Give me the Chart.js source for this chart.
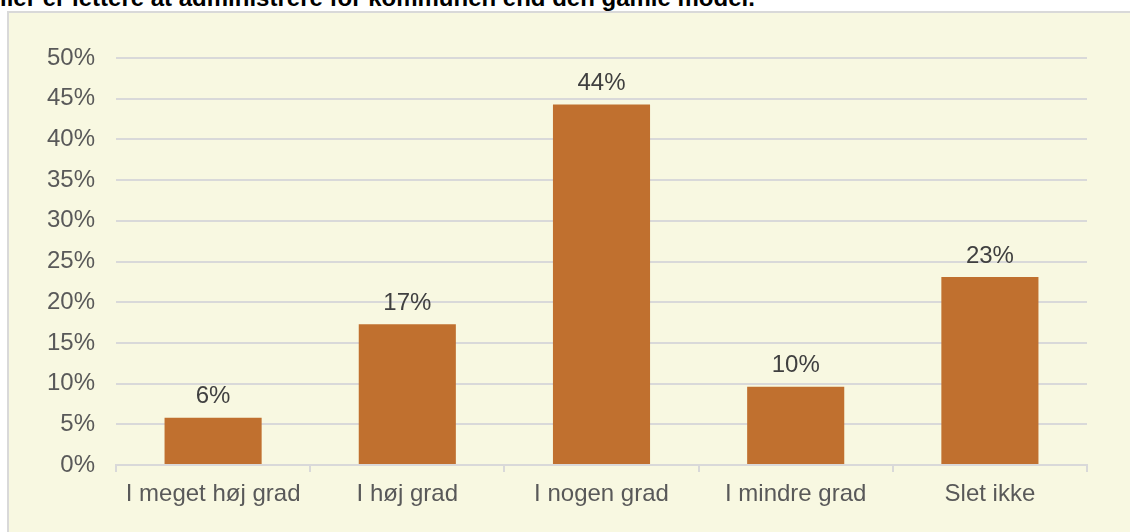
<!DOCTYPE html>
<html>
<head>
<meta charset="utf-8">
<script src="https://cdn.jsdelivr.net/npm/chart.js@4.4.1/dist/chart.umd.min.js"></script>
<style>
  html, body { margin: 0; padding: 0; width: 1130px; height: 532px; overflow: hidden; background: #ffffff; }
  #title { position: absolute; left: 0px; top: -14px; white-space: nowrap; font-family: "Liberation Sans", Arial, sans-serif; font-weight: bold; font-size: 24px; line-height: 24px; color: #000; }
  #panel { position: absolute; left: 7px; top: 11px; width: 1130px; height: 530px; background: #F8F8E1; border-left: 2px solid #D9D9D9; border-top: 2px solid #D9D9D9; }
  #wrap { position: absolute; left: 0; top: 0; width: 1130px; height: 532px; }
</style>
</head>
<body>
<div id="title">ller er lettere at administrere for kommunen end den gamle model.</div>
<div id="panel"></div>
<div id="wrap"><canvas id="c" width="1130" height="532"></canvas></div>
<script>
const categories = ["I meget høj grad", "I høj grad", "I nogen grad", "I mindre grad", "Slet ikke"];
const values = [5.8, 17.3, 44.3, 9.6, 23.1];
const valueLabels = ["6%", "17%", "44%", "10%", "23%"];
const yTicks = [0, 5, 10, 15, 20, 25, 30, 35, 40, 45, 50];

const FONT = '"Liberation Sans", Arial, sans-serif';

const barLabels = {
  id: 'barLabels',
  afterDatasetsDraw(chart) {
    const ctx = chart.ctx;
    const meta = chart.getDatasetMeta(0);
    ctx.save();
    ctx.font = '24px ' + FONT;
    ctx.fillStyle = '#404040';
    ctx.textAlign = 'center';
    ctx.textBaseline = 'middle';
    meta.data.forEach((bar, i) => {
      ctx.fillText(valueLabels[i], bar.x, bar.y - 21);
    });
    ctx.restore();
  }
};

new Chart(document.getElementById('c'), {
  type: 'bar',
  data: {
    labels: categories,
    datasets: [{
      data: values,
      backgroundColor: '#C0702F',
      borderWidth: 0,
      barPercentage: 0.5,
      categoryPercentage: 1.0
    }]
  },
  options: {
    responsive: false,
    animation: false,
    devicePixelRatio: 1,
    layout: { padding: { left: 0, right: 43, top: 58, bottom: 0 } },
    plugins: { legend: { display: false }, tooltip: { enabled: false } },
    scales: {
      y: {
        min: 0, max: 50,
        afterBuildTicks(scale) { scale.ticks = yTicks.map(v => ({ value: v })); },
        afterFit(scale) { scale.width = 116; },
        border: { display: false },
        grid: { color: '#D9D9D9', lineWidth: 2, drawTicks: false },
        ticks: {
          padding: 21,
          color: '#595959',
          font: { family: FONT, size: 24 },
          callback: v => v + '%'
        }
      },
      x: {
        afterFit(scale) { scale.height = 67; },
        border: { display: true, color: '#D9D9D9', width: 2 },
        grid: { drawOnChartArea: false, drawTicks: true, tickLength: 7, color: '#D9D9D9', lineWidth: 2 },
        ticks: {
          padding: 8,
          color: '#595959',
          font: { family: FONT, size: 24 },
          maxRotation: 0
        }
      }
    }
  },
  plugins: [barLabels]
});
</script>
</body>
</html>
